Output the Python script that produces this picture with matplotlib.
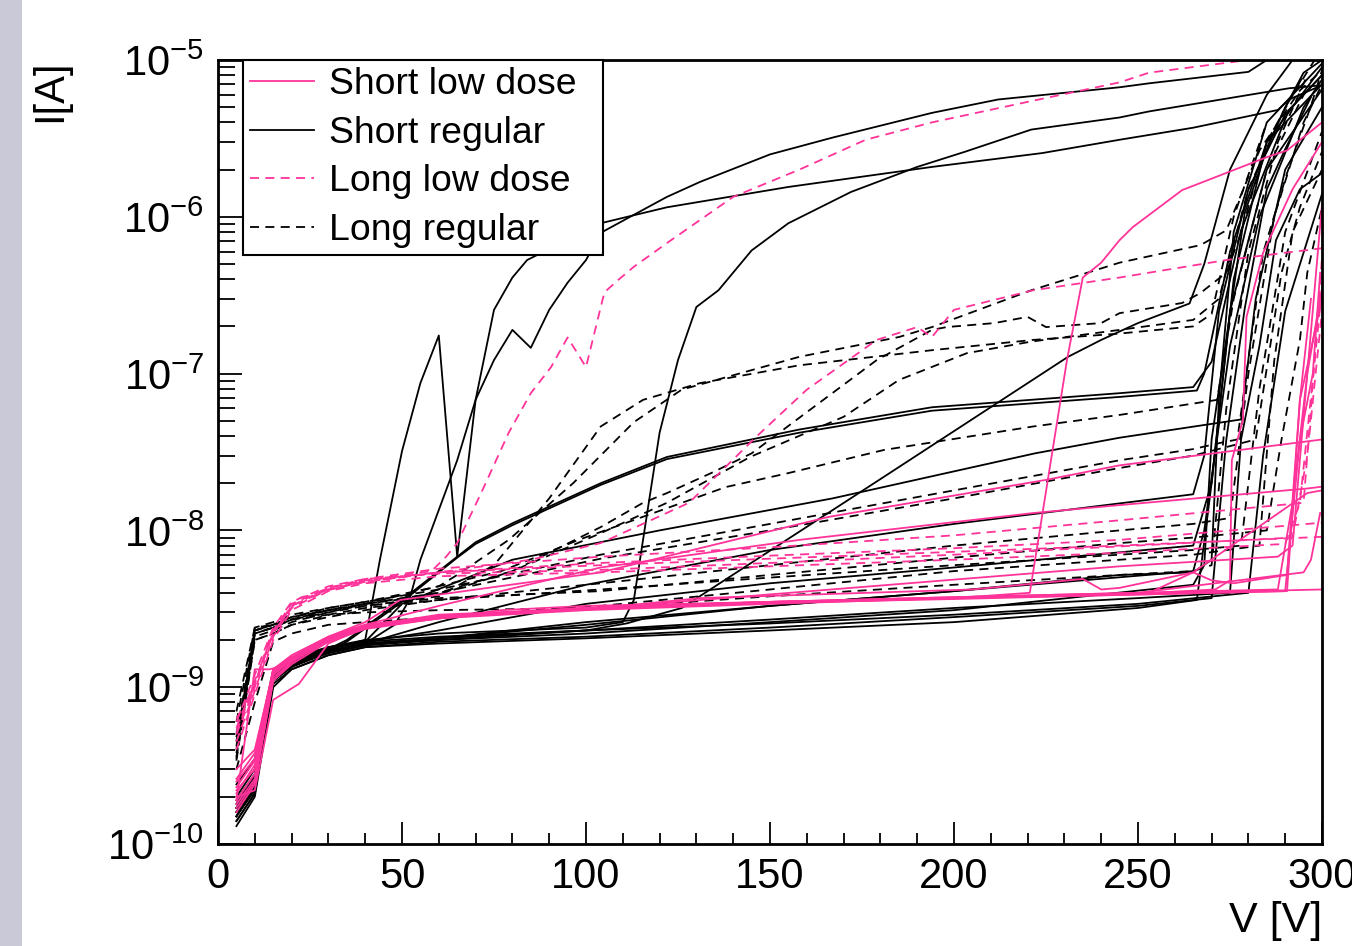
import numpy as np
import matplotlib
matplotlib.use('Agg')
import matplotlib.pyplot as plt
import matplotlib.transforms as mtransforms
from matplotlib.lines import Line2D
from matplotlib.patches import Rectangle
from matplotlib.ticker import LogLocator, MultipleLocator, NullFormatter

# IV curves: each entry is (V [V], I [A])
short_regular = [
    ([5, 10, 15, 20, 30, 40, 44, 50, 55, 60, 65, 70, 75, 80, 84, 104, 122, 155, 194, 224, 245, 265, 288, 291, 300],
     [1.6e-10, 2.3e-10, 1.2e-9, 1.4e-9, 1.75e-9, 2.0e-9, 6.5e-9, 3.2e-8, 8.7e-8, 1.75e-7, 6.8e-9, 6.8e-8, 2.55e-7, 4.1e-7, 5.3e-7, 9.1e-7, 1.15e-6, 1.55e-6, 2.08e-6, 2.55e-6, 3.1e-6, 3.7e-6, 4.8e-6, 5.6e-6, 6.9e-6]),
    ([5, 10, 15, 20, 30, 40, 48, 52, 55, 60, 65, 70, 75, 80, 85, 90, 95, 100, 104, 112, 122, 131, 150, 167, 194, 212, 245, 253, 280, 285, 290],
     [1.4e-10, 2.1e-10, 1.1e-9, 1.35e-9, 1.7e-9, 1.9e-9, 2.5e-9, 3.6e-9, 6.5e-9, 1.35e-8, 2.8e-8, 6.8e-8, 1.22e-7, 1.9e-7, 1.46e-7, 2.55e-7, 3.8e-7, 5.3e-7, 7.9e-7, 1.0e-6, 1.34e-6, 1.67e-6, 2.5e-6, 3.2e-6, 4.6e-6, 5.6e-6, 6.7e-6, 7.1e-6, 8.4e-6, 1.0e-5, 1.2e-5]),
    ([5, 10, 15, 20, 30, 35, 50, 60, 65, 70, 80, 104, 122, 158, 194, 245, 265, 270, 278, 291, 300],
     [1.7e-10, 2.5e-10, 1.15e-9, 1.4e-9, 1.75e-9, 2.0e-9, 3.6e-9, 5.5e-9, 6.8e-9, 8.4e-9, 1.11e-8, 2.0e-8, 2.94e-8, 4.4e-8, 6.1e-8, 7.5e-8, 8.2e-8, 1.19e-7, 8.2e-7, 4.8e-6, 8.0e-6]),
    ([5, 10, 15, 20, 30, 35, 50, 60, 65, 70, 80, 104, 122, 158, 194, 245, 266, 268, 275, 285, 300],
     [1.5e-10, 2.3e-10, 1.1e-9, 1.35e-9, 1.7e-9, 1.95e-9, 3.5e-9, 5.4e-9, 6.7e-9, 8.2e-9, 1.08e-8, 1.95e-8, 2.85e-8, 4.2e-8, 5.8e-8, 7.1e-8, 7.8e-8, 1.0e-7, 6.0e-7, 3.0e-6, 7.0e-6]),
    ([5, 10, 15, 20, 30, 40, 60, 100, 110, 113, 115.5, 120, 125, 130, 136, 145, 155, 172, 190, 203, 221, 245, 253, 291, 300],
     [1.7e-10, 2.6e-10, 1.2e-9, 1.45e-9, 1.8e-9, 2.0e-9, 2.2e-9, 2.4e-9, 2.6e-9, 3.6e-9, 8.7e-9, 4.2e-8, 1.22e-7, 2.66e-7, 3.4e-7, 6.1e-7, 9.1e-7, 1.44e-6, 2.08e-6, 2.6e-6, 3.6e-6, 4.3e-6, 4.7e-6, 6.6e-6, 6.9e-6]),
    ([5, 10, 15, 20, 30, 40, 60, 100, 111, 126, 181, 231, 240, 250, 264, 268, 275, 285, 292],
     [1.5e-10, 2.3e-10, 1.1e-9, 1.35e-9, 1.7e-9, 1.9e-9, 2.05e-9, 2.3e-9, 2.55e-9, 3.2e-9, 2.2e-8, 1.28e-7, 1.64e-7, 2.1e-7, 2.8e-7, 5.0e-7, 2.0e-6, 6.0e-6, 1.0e-5]),
    ([5, 10, 15, 20, 30, 40, 50, 80, 120, 167, 222, 245, 278, 282, 290, 300],
     [1.8e-10, 2.7e-10, 1.2e-9, 1.45e-9, 1.75e-9, 1.95e-9, 3.4e-9, 6.5e-9, 1.0e-8, 1.6e-8, 3.1e-8, 3.9e-8, 5.1e-8, 3.0e-7, 2.0e-6, 5.0e-6]),
    ([5, 10, 15, 20, 30, 40, 60, 100, 150, 200, 265, 268, 272, 280, 290, 300],
     [1.6e-10, 2.4e-10, 1.15e-9, 1.4e-9, 1.7e-9, 1.9e-9, 2.6e-9, 4.5e-9, 7.5e-9, 1.1e-8, 1.7e-8, 3.0e-8, 2.5e-7, 1.5e-6, 4.5e-6, 8.0e-6]),
    ([5, 10, 15, 20, 30, 40, 60, 100, 150, 200, 265, 270, 275, 285, 300],
     [2.0e-10, 3.0e-10, 1.25e-9, 1.5e-9, 1.8e-9, 1.95e-9, 2.3e-9, 3.4e-9, 4.6e-9, 5.8e-9, 8.0e-9, 2.0e-8, 2.5e-7, 2.0e-6, 6.5e-6]),
    ([5, 10, 15, 20, 30, 40, 60, 100, 150, 200, 265, 268, 275, 283, 295, 300],
     [1.4e-10, 2.1e-10, 1.1e-9, 1.35e-9, 1.65e-9, 1.85e-9, 2.05e-9, 2.6e-9, 3.3e-9, 4.1e-9, 5.5e-9, 1.0e-8, 1.5e-7, 1.0e-6, 5.0e-6, 7.5e-6]),
    ([5, 10, 15, 20, 30, 40, 60, 100, 150, 200, 265, 268, 270, 279, 285, 290, 295, 300],
     [1.7e-10, 2.5e-10, 1.2e-9, 1.4e-9, 1.7e-9, 1.9e-9, 2.0e-9, 2.2e-9, 2.6e-9, 3.1e-9, 4.5e-9, 6.0e-9, 3.8e-8, 1.06e-6, 2.7e-6, 5.0e-6, 8.3e-6, 1.0e-5]),
    ([5, 10, 15, 20, 30, 40, 60, 100, 150, 200, 250, 270, 274, 279, 285, 290, 297],
     [1.5e-10, 2.2e-10, 1.05e-9, 1.3e-9, 1.6e-9, 1.8e-9, 1.95e-9, 2.1e-9, 2.4e-9, 2.8e-9, 3.3e-9, 3.7e-9, 3.8e-8, 2.6e-7, 1.5e-6, 2.7e-6, 5.8e-6]),
    ([5, 10, 15, 20, 30, 40, 60, 100, 150, 200, 250, 275, 278, 283, 287.5, 294, 300],
     [1.9e-10, 2.8e-10, 1.15e-9, 1.4e-9, 1.65e-9, 1.85e-9, 2.0e-9, 2.3e-9, 2.7e-9, 3.2e-9, 3.7e-9, 4.0e-9, 3.8e-8, 1.5e-7, 7.1e-7, 1.5e-6, 1.9e-6]),
    ([5, 10, 15, 20, 30, 40, 60, 100, 150, 200, 250, 266, 270, 276, 285, 300],
     [1.3e-10, 2.0e-10, 1.0e-9, 1.3e-9, 1.6e-9, 1.8e-9, 1.9e-9, 2.05e-9, 2.3e-9, 2.6e-9, 3.2e-9, 3.6e-9, 2.0e-8, 4.0e-7, 3.0e-6, 9.0e-6]),
    ([5, 10, 15, 20, 30, 40, 60, 100, 150, 200, 250, 280, 284, 290, 300],
     [2.4e-10, 3.5e-10, 1.3e-9, 1.55e-9, 1.8e-9, 1.95e-9, 2.1e-9, 2.3e-9, 2.55e-9, 2.9e-9, 3.4e-9, 4.0e-9, 3.0e-8, 2.5e-7, 1.4e-6]),
    ([5, 10, 15, 20, 30, 40, 60, 100, 150, 200, 245, 265, 270, 272, 276, 285, 300],
     [1.6e-10, 2.4e-10, 1.15e-9, 1.4e-9, 1.7e-9, 1.9e-9, 2.05e-9, 2.5e-9, 3.3e-9, 4.1e-9, 5.2e-9, 5.4e-9, 6.5e-9, 7.0e-8, 8.0e-7, 4.0e-6, 9.5e-6]),
]

long_regular = [
    ([5, 10, 15, 20, 30, 40, 60, 65, 79, 96.5, 113, 126, 158, 185, 194, 221, 245, 267, 274, 283, 294, 300],
     [4.0e-10, 2.3e-9, 2.5e-9, 2.8e-9, 3.2e-9, 3.5e-9, 4.4e-9, 5.2e-9, 8.7e-9, 2.0e-8, 4.9e-8, 7.9e-8, 1.28e-7, 1.71e-7, 1.98e-7, 3.4e-7, 5.1e-7, 6.6e-7, 8.2e-7, 2.65e-6, 6.4e-6, 8.6e-6]),
    ([5, 10, 15, 20, 30, 40, 60, 80, 104, 115.5, 122, 134, 145, 179, 194, 198, 211, 220, 225, 240, 245, 262, 267, 274, 278, 285, 295],
     [5.0e-10, 2.2e-9, 2.4e-9, 2.7e-9, 3.1e-9, 3.4e-9, 3.9e-9, 5.5e-9, 1.05e-8, 1.5e-8, 1.73e-8, 2.32e-8, 3.1e-8, 1.22e-7, 1.9e-7, 1.98e-7, 2.1e-7, 2.3e-7, 1.98e-7, 2.1e-7, 2.43e-7, 2.82e-7, 3.27e-7, 4.4e-7, 7.9e-7, 3.0e-6, 8.0e-6]),
    ([5, 10, 15, 20, 30, 40, 60, 75, 90, 104, 115.5, 131, 158, 194, 221.5, 245, 265, 270, 276, 285],
     [3.5e-10, 2.2e-9, 2.4e-9, 2.7e-9, 3.0e-9, 3.3e-9, 3.8e-9, 6.0e-9, 1.6e-8, 4.6e-8, 6.8e-8, 8.7e-8, 1.13e-7, 1.41e-7, 1.64e-7, 1.8e-7, 2.0e-7, 2.4e-7, 1.0e-6, 4.0e-6]),
    ([5, 10, 15, 20, 30, 40, 60, 80, 104, 122, 144.6, 170, 185, 203.5, 221, 245, 265, 272, 280, 290, 298],
     [4.5e-10, 2.3e-9, 2.5e-9, 2.8e-9, 3.1e-9, 3.4e-9, 4.0e-9, 5.5e-9, 9.6e-9, 1.5e-8, 2.94e-8, 5.3e-8, 9.1e-8, 1.35e-7, 1.6e-7, 1.9e-7, 2.2e-7, 3.0e-7, 1.5e-6, 5.0e-6, 1.0e-5]),
    ([5, 10, 15, 20, 30, 40, 77, 98, 138, 155, 181, 221.5, 245, 271.5, 276, 285, 295],
     [3.8e-10, 2.1e-9, 2.3e-9, 2.6e-9, 3.0e-9, 3.4e-9, 5.5e-9, 8.7e-9, 1.89e-8, 2.32e-8, 3.26e-8, 4.6e-8, 5.45e-8, 6.8e-8, 3.0e-7, 2.0e-6, 6.0e-6]),
    ([5, 10, 15, 20, 30, 40, 60, 104, 150, 200, 245, 265, 272, 277, 284, 290.5, 297, 300],
     [6.0e-10, 2.4e-9, 2.6e-9, 2.9e-9, 3.2e-9, 3.5e-9, 4.2e-9, 7.0e-9, 1.1e-8, 1.8e-8, 2.8e-8, 3.3e-8, 3.6e-8, 3.8e-8, 5.9e-7, 1.9e-6, 5.1e-6, 8.6e-6]),
    ([5, 10, 15, 20, 30, 40, 60, 104, 150, 200, 245, 265, 282, 289, 294, 300],
     [4.2e-10, 2.2e-9, 2.4e-9, 2.7e-9, 3.1e-9, 3.4e-9, 4.0e-9, 6.6e-9, 1.0e-8, 1.6e-8, 2.5e-8, 3.0e-8, 3.8e-8, 4.4e-7, 1.15e-6, 2.6e-6]),
    ([5, 10, 15, 20, 30, 40, 60, 104, 150, 200, 245, 265, 275, 280, 287, 295, 300],
     [3.6e-10, 2.0e-9, 2.2e-9, 2.5e-9, 2.8e-9, 3.1e-9, 3.6e-9, 4.6e-9, 6.0e-9, 8.0e-9, 1.0e-8, 1.1e-8, 1.2e-8, 1.0e-7, 1.0e-6, 4.0e-6, 7.0e-6]),
    ([5, 10, 15, 20, 30, 40, 60, 104, 150, 200, 245, 265, 285, 289, 294, 296, 300],
     [4.8e-10, 2.3e-9, 2.5e-9, 2.8e-9, 3.1e-9, 3.3e-9, 3.7e-9, 4.1e-9, 5.2e-9, 6.7e-9, 8.3e-9, 9.0e-9, 1.0e-8, 3.8e-8, 1.64e-7, 4.4e-7, 1.15e-6]),
    ([5, 10, 15, 20, 30, 40, 60, 104, 150, 200, 245, 265, 278, 283, 290, 300],
     [3.4e-10, 2.0e-9, 2.2e-9, 2.5e-9, 2.9e-9, 3.2e-9, 3.6e-9, 4.2e-9, 5.0e-9, 6.0e-9, 7.0e-9, 7.5e-9, 8.0e-9, 8.0e-8, 8.0e-7, 3.5e-6]),
    ([5, 10, 15, 20, 30, 40, 60, 104, 150, 200, 245, 265, 270, 274, 280, 288, 296],
     [7.0e-10, 2.4e-9, 2.5e-9, 2.7e-9, 2.9e-9, 3.0e-9, 3.1e-9, 3.2e-9, 3.8e-9, 4.5e-9, 5.2e-9, 5.5e-9, 6.0e-9, 6.0e-8, 6.0e-7, 3.0e-6, 8.0e-6]),
    ([5, 10, 15, 20, 30, 40, 60, 104, 150, 200, 245, 265, 283, 287, 292, 300],
     [3.0e-10, 8.0e-10, 1.95e-9, 2.2e-9, 2.5e-9, 2.6e-9, 2.8e-9, 3.3e-9, 4.2e-9, 5.5e-9, 6.5e-9, 7.0e-9, 8.0e-9, 1.2e-7, 8.0e-7, 2.0e-6]),
]

long_low_dose = [
    ([5, 9.5, 14.6, 17, 22, 40, 58, 62, 65, 71.5, 79, 85, 90.5, 95, 100, 105, 109, 113, 122, 140, 158, 176, 194, 221.5, 245, 253, 280],
     [6.3e-10, 9.6e-10, 2.25e-9, 2.6e-9, 3.7e-9, 4.8e-9, 5.5e-9, 6.8e-9, 8.3e-9, 1.73e-8, 4.2e-8, 7.5e-8, 1.1e-7, 1.7e-7, 1.1e-7, 3.3e-7, 4.0e-7, 4.8e-7, 6.8e-7, 1.34e-6, 2.0e-6, 3.1e-6, 4.0e-6, 5.5e-6, 7.2e-6, 8.3e-6, 1.0e-5]),
    ([5, 10, 15, 20, 30, 40, 60, 85, 104, 128, 146, 160, 179, 190, 194, 200, 221.5, 245, 274, 300],
     [5.5e-10, 1.1e-9, 2.2e-9, 3.3e-9, 4.2e-9, 4.7e-9, 5.4e-9, 6.5e-9, 8.3e-9, 1.5e-8, 3.9e-8, 7.9e-8, 1.64e-7, 1.98e-7, 1.71e-7, 2.55e-7, 3.4e-7, 4.1e-7, 5.3e-7, 6.3e-7]),
    ([5, 10, 15, 20, 30, 40, 60, 104, 150, 200, 245, 295, 297, 300],
     [5.0e-10, 1.0e-9, 2.3e-9, 3.4e-9, 4.3e-9, 4.9e-9, 5.7e-9, 6.8e-9, 7.8e-9, 9.3e-9, 1.16e-8, 1.5e-8, 6.0e-8, 5.5e-7]),
    ([5, 10, 15, 20, 30, 40, 60, 104, 150, 200, 245, 300],
     [4.5e-10, 9.5e-10, 2.1e-9, 3.2e-9, 4.2e-9, 4.7e-9, 5.4e-9, 6.2e-9, 6.9e-9, 7.7e-9, 8.7e-9, 1.12e-8]),
    ([5, 10, 15, 20, 30, 40, 60, 104, 150, 200, 245, 292, 296, 300],
     [6.0e-10, 1.2e-9, 2.4e-9, 3.5e-9, 4.4e-9, 4.9e-9, 5.3e-9, 5.6e-9, 6.2e-9, 7.0e-9, 7.9e-9, 9.0e-9, 3.0e-8, 2.5e-7]),
    ([5, 10, 15, 20, 30, 40, 60, 104, 150, 200, 245, 290, 294, 298, 300],
     [4.0e-10, 9.0e-10, 2.0e-9, 3.1e-9, 4.1e-9, 4.6e-9, 5.1e-9, 5.4e-9, 5.9e-9, 6.5e-9, 7.2e-9, 8.2e-9, 1.5e-8, 1.2e-7, 3.5e-7]),
    ([5, 10, 15, 20, 30, 40, 60, 104, 150, 200, 245, 300],
     [5.2e-10, 1.05e-9, 2.2e-9, 3.3e-9, 4.3e-9, 4.8e-9, 5.4e-9, 6.0e-9, 6.6e-9, 7.3e-9, 8.0e-9, 9.1e-9]),
]

short_low_dose = [
    ([5, 10, 14, 19, 25, 31, 40, 58, 77, 100, 150, 200, 250, 290, 294, 297.5, 299.5],
     [1.9e-10, 1.3e-9, 1.3e-9, 1.4e-9, 1.8e-9, 2.1e-9, 2.45e-9, 2.7e-9, 3.1e-9, 3.3e-9, 3.5e-9, 3.7e-9, 3.9e-9, 4.1e-9, 3.8e-8, 1.0e-7, 4.4e-7]),
    ([5, 10, 15, 22, 30, 40, 60, 100, 150, 200, 250, 290.5, 294, 300],
     [2.0e-10, 2.2e-10, 8.3e-10, 1.05e-9, 1.9e-9, 2.4e-9, 2.75e-9, 3.2e-9, 3.45e-9, 3.65e-9, 3.9e-9, 4.1e-9, 6.8e-8, 3.0e-7]),
    ([5, 10, 15, 20, 30, 40, 60, 100, 150, 200, 220.6, 230.7, 235, 240, 245, 248.6, 262, 285, 290.5, 300],
     [2.5e-10, 3.5e-10, 1.2e-9, 1.5e-9, 2.0e-9, 2.4e-9, 2.8e-9, 3.2e-9, 3.5e-9, 3.7e-9, 4.0e-9, 1.22e-7, 4.1e-7, 5.1e-7, 7.1e-7, 8.6e-7, 1.48e-6, 2.4e-6, 2.65e-6, 4.0e-6]),
    ([5, 10, 15, 20, 30, 40, 49.5, 104, 166, 225, 245, 300],
     [2.2e-10, 3.0e-10, 1.3e-9, 1.6e-9, 2.1e-9, 2.6e-9, 3.6e-9, 5.4e-9, 1.22e-8, 2.1e-8, 2.6e-8, 3.8e-8]),
    ([5, 10, 15, 20, 30, 40, 60, 104, 158, 221.5, 245, 296, 300],
     [3.0e-10, 4.0e-10, 1.25e-9, 1.55e-9, 2.05e-9, 2.5e-9, 3.3e-9, 5.8e-9, 8.7e-9, 1.29e-8, 1.45e-8, 1.85e-8, 1.9e-8]),
    ([5, 10, 15, 20, 30, 40, 60, 104, 131, 205, 235, 240, 245, 265, 270, 276, 290.5, 294, 297],
     [1.8e-10, 2.6e-10, 1.15e-9, 1.45e-9, 2.0e-9, 2.4e-9, 2.85e-9, 3.2e-9, 3.7e-9, 4.2e-9, 4.9e-9, 4.2e-9, 4.3e-9, 5.4e-9, 4.8e-9, 4.6e-9, 5.2e-9, 6.8e-8, 3.0e-7]),
    ([5, 10, 15, 20, 30, 40, 60, 100, 150, 200, 250, 271, 275, 275.5, 278.5, 279.5, 284, 292, 300],
     [2.1e-10, 3.2e-10, 1.2e-9, 1.5e-9, 2.0e-9, 2.45e-9, 2.8e-9, 3.15e-9, 3.45e-9, 3.7e-9, 3.95e-9, 4.2e-9, 4.8e-9, 2.8e-8, 5.06e-8, 2.3e-7, 5.9e-7, 1.5e-6, 3.0e-6]),
    ([5, 10, 15, 20, 30, 40, 60, 100, 150, 200, 253, 265, 296, 300],
     [1.7e-10, 2.5e-10, 1.1e-9, 1.4e-9, 1.95e-9, 2.35e-9, 2.75e-9, 3.1e-9, 3.4e-9, 3.7e-9, 4.0e-9, 5.4e-9, 1.73e-8, 1.8e-8]),
    ([5, 10, 15, 20, 30, 40, 60, 100, 150, 200, 250, 295, 297, 299.5],
     [1.6e-10, 2.4e-10, 1.1e-9, 1.45e-9, 2.0e-9, 2.4e-9, 2.8e-9, 3.2e-9, 3.5e-9, 3.75e-9, 4.0e-9, 5.4e-9, 6.5e-9, 1.29e-8]),
    ([5, 10, 15, 20, 30, 40, 60, 104, 245, 288, 292, 296, 300],
     [2.3e-10, 3.4e-10, 1.25e-9, 1.5e-9, 2.0e-9, 2.45e-9, 2.9e-9, 3.2e-9, 5.9e-9, 6.8e-9, 8.0e-9, 1.0e-7, 1.2e-6]),
    ([5, 10, 15, 20, 30, 40, 60, 100, 150, 200, 250, 300],
     [1.9e-10, 2.8e-10, 1.2e-9, 1.5e-9, 2.05e-9, 2.45e-9, 2.8e-9, 3.15e-9, 3.45e-9, 3.7e-9, 3.95e-9, 4.2e-9]),
    ([5, 10, 15, 20, 30, 40, 60, 100, 150, 200, 250, 288, 292, 296, 300],
     [2.6e-10, 3.8e-10, 1.3e-9, 1.55e-9, 2.1e-9, 2.5e-9, 2.85e-9, 3.2e-9, 3.5e-9, 3.75e-9, 4.0e-9, 4.2e-9, 1.5e-8, 1.0e-7, 3.5e-7]),
]

legend_labels = ['Short low dose', 'Short regular', 'Long low dose', 'Long regular']
y_decades = [-10, -9, -8, -7, -6, -5]

plt.rcParams['font.family'] = ['Liberation Sans', 'DejaVu Sans']
plt.rcParams['mathtext.fontset'] = 'custom'
plt.rcParams['mathtext.rm'] = 'Liberation Sans'
plt.rcParams['mathtext.it'] = 'Liberation Sans:italic'
plt.rcParams['mathtext.bf'] = 'Liberation Sans:bold'

pink = '#ff3399'
dash = (0, (5, 3.5))
lw = 1.3

fig = plt.figure(figsize=(13.52, 9.46), dpi=100)
fig.patches.append(Rectangle((0, 0), 22 / 1352, 1, transform=fig.transFigure,
                             facecolor='#c9c9d8', edgecolor='none', zorder=0))
ax = fig.add_axes([218 / 1352, 102 / 946, 1104 / 1352, 784 / 946])

for V, I in long_regular:
    ax.plot(V, I, color='black', lw=lw, ls=dash)
for V, I in short_regular:
    ax.plot(V, I, color='black', lw=lw, ls='-')
for V, I in long_low_dose:
    ax.plot(V, I, color=pink, lw=lw, ls=dash)
for V, I in short_low_dose:
    ax.plot(V, I, color=pink, lw=lw, ls='-')

ax.set_yscale('log')
ax.set_xlim(0, 300)
ax.set_ylim(1e-10, 1e-5)

ax.xaxis.set_major_locator(MultipleLocator(50))
ax.xaxis.set_minor_locator(MultipleLocator(10))
ax.yaxis.set_major_locator(LogLocator(base=10, numticks=20))
ax.yaxis.set_minor_locator(LogLocator(base=10, subs=np.arange(2, 10), numticks=20))
ax.yaxis.set_minor_formatter(NullFormatter())

ax.tick_params(which='both', direction='in', top=False, right=False, width=1.3)
ax.tick_params(axis='x', which='major', length=15.5, labelsize=30, pad=9)
ax.tick_params(axis='x', which='minor', length=8)
ax.tick_params(axis='y', which='major', length=17, labelleft=False)
ax.tick_params(axis='y', which='minor', length=12)
for s in ax.spines.values():
    s.set_linewidth(2)

# y tick labels placed by hand so the ink is centred on the decade tick
ytrans = mtransforms.blended_transform_factory(ax.transAxes, ax.transData) + \
    mtransforms.ScaledTranslation(0, -5 / 100, fig.dpi_scale_trans)
for k in y_decades:
    ax.text(-0.0125, 10.0 ** k, r'$\mathregular{10^{%d}}$' % k, transform=ytrans,
            ha='right', va='center', fontsize=30, clip_on=False)

fig.text(50 / 1352, 1 - 60 / 946, 'I[A]', rotation=90, ha='center', va='top', fontsize=30)
fig.text(1322 / 1352, 1 - 921 / 946, 'V [V]', ha='right', va='center', fontsize=31)

handles = [Line2D([], [], color=pink, lw=lw, ls='-'),
           Line2D([], [], color='black', lw=lw, ls='-'),
           Line2D([], [], color=pink, lw=lw, ls=dash),
           Line2D([], [], color='black', lw=lw, ls=dash)]
leg = ax.legend(handles, legend_labels, loc='upper left',
                bbox_to_anchor=(0.0226, 0.749, 0.3261, 0.251), mode='expand',
                borderaxespad=0, fontsize=26.9, frameon=True, fancybox=False,
                edgecolor='black', framealpha=1, handlelength=1.7, handletextpad=0.4,
                labelspacing=0.36, borderpad=0.2)
leg.get_frame().set_linewidth(1.5)

fig.savefig('out.png', dpi=100)
